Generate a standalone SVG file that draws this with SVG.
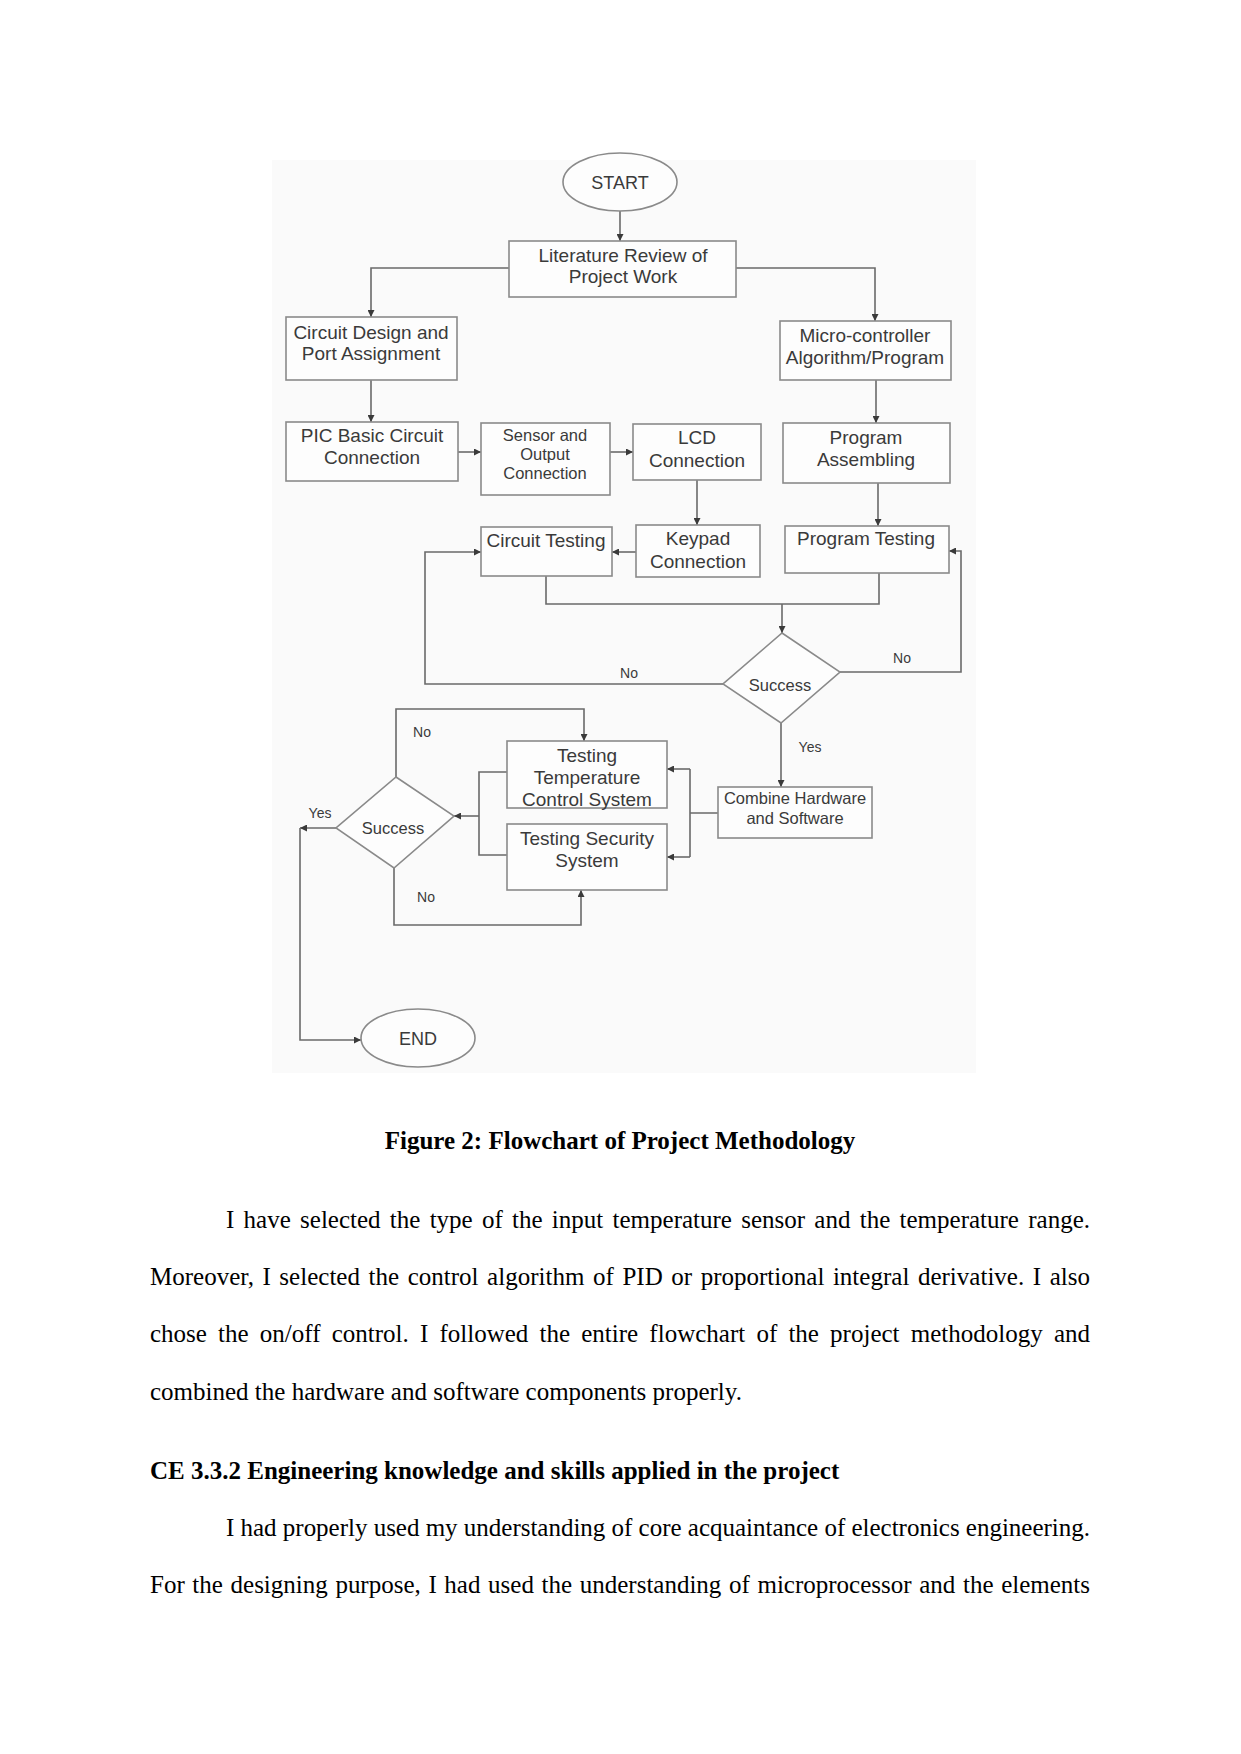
<svg xmlns="http://www.w3.org/2000/svg" width="1241" height="1754" viewBox="0 0 1241 1754">
<defs>
<marker id="ah" viewBox="0 0 10 10" refX="10" refY="5" markerWidth="7" markerHeight="7" markerUnits="userSpaceOnUse" orient="auto">
<path d="M0,0 L10,5 L0,10 z" fill="#3a3a3a"/>
</marker>
<style>
.box{fill:#fdfdfd;stroke:#8a8a8a;stroke-width:1.6}
.t{font-family:"Liberation Sans",Arial,sans-serif;font-size:19px;fill:#3a3a3a;text-anchor:middle}
.s{font-size:16.5px}
.lbl{font-family:"Liberation Sans",Arial,sans-serif;font-size:14px;fill:#3a3a3a;text-anchor:middle}
.c{fill:none;stroke:#6a6a6a;stroke-width:1.6}
.a{marker-end:url(#ah)}
.body{font-family:"Liberation Serif","Times New Roman",serif;font-size:25px;fill:#000}
.b{font-weight:bold}
</style>
</defs>
<rect width="1241" height="1754" fill="#ffffff"/>
<rect x="272" y="160" width="704" height="913" fill="#fafafa"/>

<g id="connectors">
<path class="c a" d="M620,211 V241"/>
<path class="c a" d="M509,268 H371 V317"/>
<path class="c a" d="M736,268 H875 V321"/>
<path class="c a" d="M371,380 V422"/>
<path class="c a" d="M876,380 V423"/>
<path class="c a" d="M458,452 H481"/>
<path class="c a" d="M610,452 H633"/>
<path class="c a" d="M697,480 V525"/>
<path class="c a" d="M636,552 H612"/>
<path class="c a" d="M878,483 V526"/>
<path class="c" d="M546,576 V604 H879 V573"/>
<path class="c a" d="M782,604 V633"/>
<path class="c a" d="M723,684 H425 V552 H481"/>
<path class="c a" d="M840,672 H961 V551 H949"/>
<path class="c a" d="M781,723 V787"/>
<path class="c" d="M718,813 H690 M690,769 V857"/>
<path class="c a" d="M690,769 H667"/>
<path class="c a" d="M690,857 H667"/>
<path class="c" d="M507,772 H479 V855 H507"/>
<path class="c a" d="M479,816 H454"/>
<path class="c a" d="M396,777 V709 H584 V741"/>
<path class="c a" d="M394,868 V925 H581 V890"/>
<path class="c a" d="M336,828 H300"/>
<path class="c a" d="M300,828 V1040 H361"/>
<text class="lbl" x="629" y="678">No</text>
<text class="lbl" x="902" y="663">No</text>
<text class="lbl" x="810" y="752">Yes</text>
<text class="lbl" x="422" y="737">No</text>
<text class="lbl" x="426" y="902">No</text>
<text class="lbl" x="320" y="818">Yes</text>
</g>

<g id="start">
<ellipse class="box" cx="620" cy="182" rx="57" ry="29"/>
<text class="t" x="620" y="189" style="font-size:18px">START</text>
</g>
<g id="literature">
<rect class="box" x="509" y="241" width="227" height="56"/>
<text class="t" x="623" y="262">Literature Review of</text>
<text class="t" x="623" y="283">Project Work</text>
</g>
<g id="circuit-design">
<rect class="box" x="286" y="317" width="171" height="63"/>
<text class="t" x="371" y="339">Circuit Design and</text>
<text class="t" x="371" y="360">Port Assignment</text>
</g>
<g id="micro">
<rect class="box" x="780" y="321" width="171" height="59"/>
<text class="t" x="865" y="342">Micro-controller</text>
<text class="t" x="865" y="364">Algorithm/Program</text>
</g>
<g id="pic">
<rect class="box" x="286" y="422" width="172" height="59"/>
<text class="t" x="372" y="442">PIC Basic Circuit</text>
<text class="t" x="372" y="464">Connection</text>
</g>
<g id="sensor">
<rect class="box" x="481" y="423" width="129" height="72"/>
<text class="t s" x="545" y="441">Sensor and</text>
<text class="t s" x="545" y="460">Output</text>
<text class="t s" x="545" y="479">Connection</text>
</g>
<g id="lcd">
<rect class="box" x="633" y="424" width="128" height="56"/>
<text class="t" x="697" y="444">LCD</text>
<text class="t" x="697" y="467">Connection</text>
</g>
<g id="prog-asm">
<rect class="box" x="783" y="423" width="167" height="60"/>
<text class="t" x="866" y="444">Program</text>
<text class="t" x="866" y="466">Assembling</text>
</g>
<g id="circuit-testing">
<rect class="box" x="481" y="527" width="131" height="49"/>
<text class="t" x="546" y="547">Circuit Testing</text>
</g>
<g id="keypad">
<rect class="box" x="636" y="525" width="124" height="52"/>
<text class="t" x="698" y="545">Keypad</text>
<text class="t" x="698" y="568">Connection</text>
</g>
<g id="prog-testing">
<rect class="box" x="785" y="526" width="164" height="47"/>
<text class="t" x="866" y="545">Program Testing</text>
</g>
<g id="decision1">
<polygon class="box" points="782,633 840,672 781,723 723,684"/>
<text class="t s" x="780" y="691">Success</text>
</g>
<g id="combine">
<rect class="box" x="718" y="787" width="154" height="51"/>
<text class="t s" x="795" y="804">Combine Hardware</text>
<text class="t s" x="795" y="824">and Software</text>
</g>
<g id="test-temp">
<rect class="box" x="507" y="741" width="160" height="67"/>
<text class="t" x="587" y="762">Testing</text>
<text class="t" x="587" y="784">Temperature</text>
<text class="t" x="587" y="806">Control System</text>
</g>
<g id="test-security">
<rect class="box" x="507" y="824" width="160" height="66"/>
<text class="t" x="587" y="845">Testing Security</text>
<text class="t" x="587" y="867">System</text>
</g>
<g id="decision2">
<polygon class="box" points="396,777 454,816 394,868 336,828"/>
<text class="t s" x="393" y="834">Success</text>
</g>
<g id="end">
<ellipse class="box" cx="418" cy="1038" rx="57" ry="29"/>
<text class="t" x="418" y="1045" style="font-size:18px">END</text>
</g>

<g id="text">
<text class="body b" x="620" y="1149" text-anchor="middle">Figure 2: Flowchart of Project Methodology</text>
<text class="body" x="226" y="1228" word-spacing="3" textLength="864" lengthAdjust="spacing">I have selected the type of the input temperature sensor and the temperature range.</text>
<text class="body" x="150" y="1285" word-spacing="2.3" textLength="940" lengthAdjust="spacing">Moreover, I selected the control algorithm of PID or proportional integral derivative. I also</text>
<text class="body" x="150" y="1342" word-spacing="4.9" textLength="940" lengthAdjust="spacing">chose the on/off control. I followed the entire flowchart of the project methodology and</text>
<text class="body" x="150" y="1400">combined the hardware and software components properly.</text>
<text class="body b" x="150" y="1479">CE 3.3.2 Engineering knowledge and skills applied in the project</text>
<text class="body" x="226" y="1536" textLength="864" lengthAdjust="spacing">I had properly used my understanding of core acquaintance of electronics engineering.</text>
<text class="body" x="150" y="1593" word-spacing="1.4" textLength="940" lengthAdjust="spacing">For the designing purpose, I had used the understanding of microprocessor and the elements</text>
</g>
</svg>
